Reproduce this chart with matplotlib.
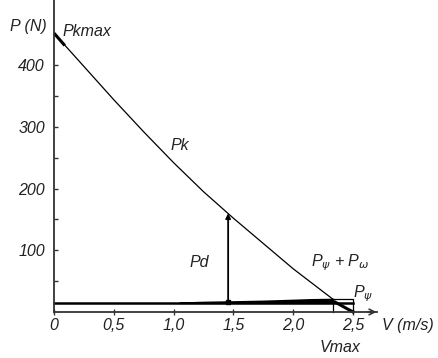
import matplotlib.pyplot as plt

plt.rcParams['font.family'] = ['Liberation Sans', 'DejaVu Sans']

# traction force Pk (V in m/s, P in N)
v_pk = [0, 0.25, 0.5, 0.75, 1.0, 1.25, 1.5, 1.75, 2.0, 2.33]
p_pk = [452, 398, 344, 292, 242, 195, 152, 111, 70, 21]

# resistance P_psi (constant) and P_psi + P_omega
p_psi = 15
v_res = [1.05, 1.25, 1.5, 1.75, 2.0, 2.15, 2.33]
p_res = [15, 16.2, 17.0, 18.0, 19.5, 20.5, 21]

v_max = 2.33
v_end = 2.5
v_d = 1.456     # where Pd is drawn
p_d_top = 160

xticks = [0, 0.5, 1.0, 1.5, 2.0, 2.5]
xlabels = ['0', '0,5', '1,0', '1,5', '2,0', '2,5']
yticks = [50, 100, 150, 200, 250, 300, 350, 400]
ylabels = ['', '100', '', '200', '', '300', '', '400']

txt = '#222222'
fs = 11.5

fig = plt.figure(figsize=(4.39, 3.58), dpi=100)
ax = fig.add_axes([0, 0, 1, 1])
ax.set_xlim(-0.4515, 3.219)
ax.set_ylim(-74.6, 505.7)

for s in ['top', 'right']:
    ax.spines[s].set_visible(False)
ax.spines['left'].set_position(('data', 0))
ax.spines['bottom'].set_position(('data', 0))
ax.spines['left'].set_bounds(0, 505.7)
ax.spines['bottom'].set_bounds(0, 2.7)
for s in ['left', 'bottom']:
    ax.spines[s].set_linewidth(1.3)
    ax.spines[s].set_color('#333333')

ax.set_xticks(xticks)
ax.set_xticklabels(xlabels, style='italic', fontsize=fs, color=txt)
ax.set_yticks(yticks)
ax.set_yticklabels(ylabels, style='italic', fontsize=fs, color=txt)
ax.tick_params(axis='x', direction='inout', length=4, width=1, pad=2.5, colors='#333333', labelcolor=txt)
ax.tick_params(axis='y', direction='in', length=3, width=1, pad=6.5, colors='#333333', labelcolor=txt)

# x axis arrow head
ax.annotate('', xy=(2.72, 0), xytext=(2.6, 0),
            arrowprops=dict(arrowstyle='->', color='#333333', lw=1.2, mutation_scale=10))

# Pk curve
ax.plot(v_pk, p_pk, color='black', lw=0.9)
ax.plot([0, 0.09], [p_pk[0], p_pk[0] - 20], color='black', lw=2.2, solid_capstyle='butt')

# P_psi line and P_psi + P_omega band
ax.plot([0, v_end], [p_psi, p_psi], color='black', lw=1.8)
ax.fill_between(v_res, p_psi, p_res, color='black', lw=1.2, edgecolor='black')

# box near Vmax
ax.plot([v_max, v_end, v_end], [p_res[-1], p_res[-1], 0], color='black', lw=0.9)
ax.plot([v_max, v_max], [p_res[-1], 0], color='black', lw=0.9)
ax.plot([v_max + 0.02, v_end], [p_psi + 1, 0], color='black', lw=2.2)

# Pd arrow
ax.annotate('', xy=(v_d, p_d_top), xytext=(v_d, p_psi),
            arrowprops=dict(arrowstyle='-|>', color='black', lw=1.3, mutation_scale=7,
                            shrinkA=0, shrinkB=0))
ax.plot([v_d], [p_psi + 1], marker='s', color='black', ms=3)

# labels
ax.text(-0.37, 463, 'P (N)', style='italic', fontsize=fs, color=txt, va='center', ha='left')
ax.text(0.075, 455, 'Pkmax', style='italic', fontsize=fs, color=txt, va='center', ha='left')
ax.text(0.97, 270, 'Pk', style='italic', fontsize=fs, color=txt, va='center', ha='left')
ax.text(1.135, 81, 'Pd', style='italic', fontsize=fs, color=txt, va='center', ha='left')
ax.text(2.15, 80, r'P$_\psi$ + P$_\omega$', style='italic', fontsize=fs, color=txt,
        va='center', ha='left')
ax.text(2.5, 29, r'P$_\psi$', style='italic', fontsize=fs, color=txt, va='center', ha='left')
ax.text(2.74, -22, 'V (m/s)', style='italic', fontsize=fs, color=txt, va='center', ha='left')
ax.text(2.39, -57, 'Vmax', style='italic', fontsize=fs, color=txt, va='center', ha='center')

plt.savefig('out.png', dpi=100)
